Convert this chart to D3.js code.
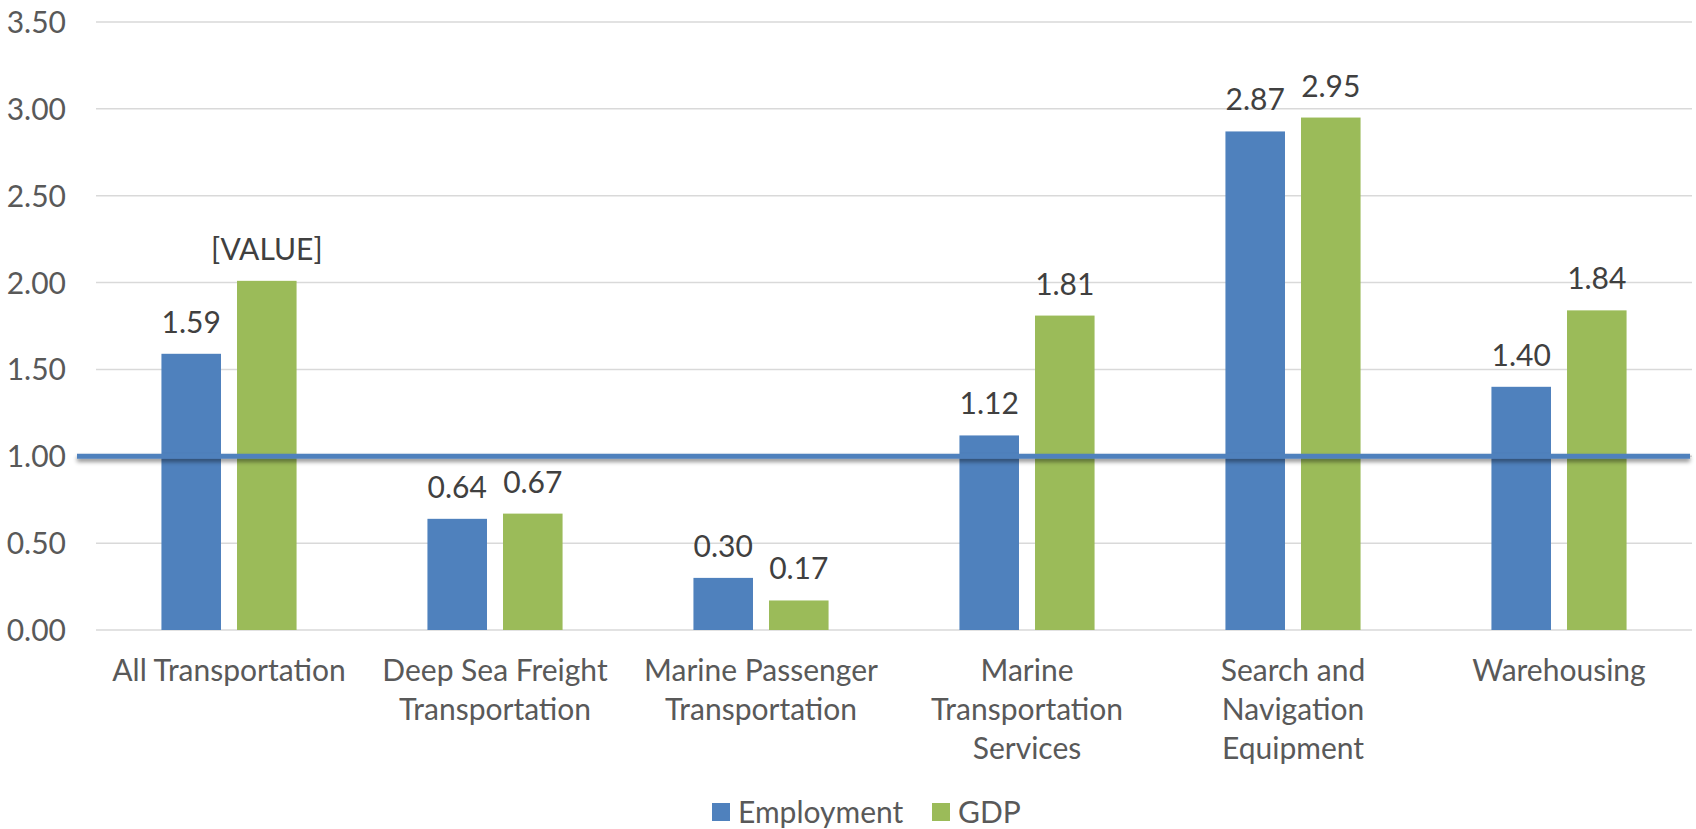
<!DOCTYPE html>
<html>
<head>
<meta charset="utf-8">
<script src="https://cdn.jsdelivr.net/npm/d3@7"></script>
<style>
  html, body { margin: 0; padding: 0; background: #fff; }
  svg { display: block; }
  text { font-family: Lato, "Open Sans", sans-serif; }
</style>
</head>
<body>
<svg id="chart" width="1696" height="829"></svg>
<script>
const categories = [
  ["All Transportation"],
  ["Deep Sea Freight", "Transportation"],
  ["Marine Passenger", "Transportation"],
  ["Marine", "Transportation", "Services"],
  ["Search and", "Navigation", "Equipment"],
  ["Warehousing"]
];
const seriesNames = ["Employment", "GDP"];
const employment = [1.59, 0.64, 0.30, 1.12, 2.87, 1.40];
const gdp = [2.01, 0.67, 0.17, 1.81, 2.95, 1.84];
const employmentLabels = ["1.59", "0.64", "0.30", "1.12", "2.87", "1.40"];
const gdpLabels = ["[VALUE]", "0.67", "0.17", "1.81", "2.95", "1.84"];
const yTicks = [0, 0.5, 1, 1.5, 2, 2.5, 3, 3.5];
const referenceValue = 1.0;
const colors = ["#4F81BD", "#9BBB59"];

(function () {
const svg = d3.select("#chart");
const fontSize = 30;
const pLeft = 96, pRight = 1692, pTop = 22, pBottom = 630;

const catKeys = categories.map((c, i) => i);
const x0 = d3.scaleBand().domain(catKeys).range([pLeft, pRight]).padding(0);
const x1 = d3.scaleBand().domain(seriesNames)
  .range([x0.bandwidth() * 0.246, x0.bandwidth() * 0.754])
  .paddingInner(0.212);
const y = d3.scaleLinear().domain([0, 3.5]).range([pBottom, pTop]);

const defs = svg.append("defs");
const f = defs.append("filter").attr("id", "shadow")
  .attr("filterUnits", "userSpaceOnUse")
  .attr("x", 0).attr("y", 0).attr("width", 1696).attr("height", 829);
f.append("feDropShadow").attr("dx", 0).attr("dy", 3).attr("stdDeviation", 2.2).attr("flood-color", "#000").attr("flood-opacity", 0.45);

// y axis labels
const yAxis = d3.axisLeft(y).tickValues(yTicks).tickSize(0).tickPadding(0).tickFormat(d3.format(".2f"));
const gy = svg.append("g").attr("transform", `translate(${66},0)`).call(yAxis);
gy.select(".domain").remove();
gy.selectAll("text").attr("font-size", fontSize).attr("fill", "#595959")
  .attr("font-family", "Lato, 'Open Sans', sans-serif").attr("dy", "0.35em");

// gridlines
svg.append("g").selectAll("line").data(yTicks).join("line")
  .attr("x1", pLeft).attr("x2", pRight)
  .attr("y1", d => y(d)).attr("y2", d => y(d))
  .attr("stroke", "#d9d9d9").attr("stroke-width", 1.5);

// bars
const seriesData = [employment, gdp];
const seriesLabels = [employmentLabels, gdpLabels];
seriesNames.forEach((s, si) => {
  svg.append("g").selectAll("rect").data(seriesData[si]).join("rect")
    .attr("x", (d, i) => x0(i) + x1(s))
    .attr("y", d => y(d))
    .attr("width", x1.bandwidth())
    .attr("height", d => y(0) - y(d))
    .attr("fill", colors[si]);
});

// reference line at 1.00
svg.append("line")
  .attr("x1", pLeft - 19).attr("x2", pRight - 2)
  .attr("y1", y(referenceValue)).attr("y2", y(referenceValue))
  .attr("stroke", "#4F81BD").attr("stroke-width", 5)
  .attr("filter", "url(#shadow)");

// data labels
seriesNames.forEach((s, si) => {
  svg.append("g").selectAll("text").data(seriesData[si]).join("text")
    .attr("x", (d, i) => x0(i) + x1(s) + x1.bandwidth() / 2)
    .attr("y", d => y(d) - 21)
    .attr("text-anchor", "middle")
    .attr("font-size", fontSize)
    .attr("fill", "#404040")
    .text((d, i) => seriesLabels[si][i]);
});

// category labels
const cg = svg.append("g");
categories.forEach((lines, i) => {
  const cx = x0(i) + x0.bandwidth() / 2;
  const t = cg.append("text")
    .attr("x", cx).attr("y", 681)
    .attr("text-anchor", "middle")
    .attr("font-size", fontSize)
    .attr("fill", "#595959");
  lines.forEach((ln, j) => {
    t.append("tspan").attr("x", cx).attr("y", 681 + j * 39).text(ln);
  });
});

// legend
const legend = svg.append("g");
const items = [{name: "Employment", x: 712}, {name: "GDP", x: 932}];
items.forEach((it, i) => {
  legend.append("rect").attr("x", it.x).attr("y", 803).attr("width", 18).attr("height", 18).attr("fill", colors[i]);
  legend.append("text").attr("x", it.x + 26).attr("y", 823)
    .attr("font-size", fontSize).attr("fill", "#595959").text(it.name);
});
})();
</script>
</body>
</html>
